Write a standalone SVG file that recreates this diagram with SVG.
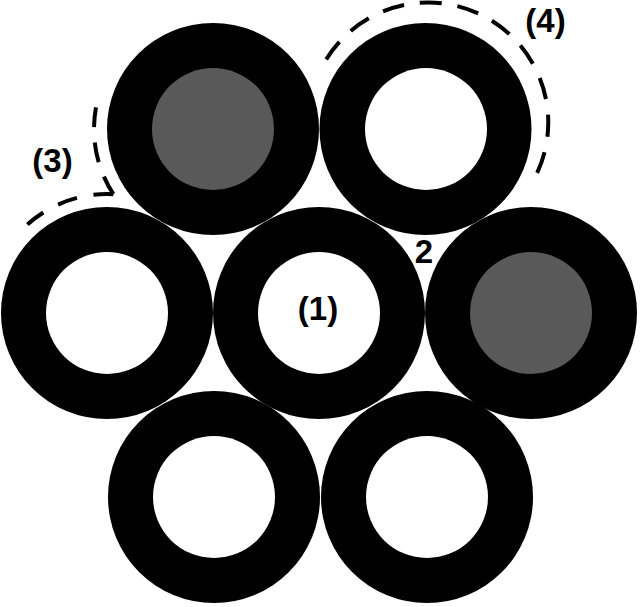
<svg xmlns="http://www.w3.org/2000/svg" width="640" height="607" viewBox="0 0 640 607">
<style>
.outer{fill:#000}
.hole{fill:#fff}
.core{fill:#595959}
.dash{fill:none;stroke:#000;stroke-width:4;stroke-linecap:butt}
.lbl{font-family:"Liberation Sans",Arial,sans-serif;font-weight:bold;font-size:33px;fill:#000;text-anchor:middle}
</style>
<rect width="640" height="607" fill="#fff"/>
<g id="ring-top-left"><circle class="outer" cx="213" cy="129" r="106"/><circle class="core" cx="213" cy="129" r="61"/></g>
<g id="ring-top-right"><circle class="outer" cx="425.5" cy="129" r="106"/><circle class="hole" cx="426" cy="129" r="61"/></g>
<g id="ring-mid-left"><circle class="outer" cx="107" cy="313" r="106"/><circle class="hole" cx="107" cy="313" r="61"/></g>
<g id="ring-center"><circle class="outer" cx="319" cy="313" r="106"/><circle class="hole" cx="319" cy="313" r="61"/></g>
<g id="ring-mid-right"><circle class="outer" cx="531" cy="313" r="106"/><circle class="core" cx="531" cy="313" r="61"/></g>
<g id="ring-bottom-left"><circle class="outer" cx="214" cy="497" r="106"/><circle class="hole" cx="214" cy="497" r="61"/></g>
<g id="ring-bottom-right"><circle class="outer" cx="427" cy="497" r="106"/><circle class="hole" cx="427" cy="497" r="61"/></g>
<g id="connectors">
<path class="dash" d="M326.2,59.4 A120,120 0 0 1 536.8,173.7" stroke-dasharray="22 15.8"/>
<path class="dash" d="M113.4,194.2 A119,119 0 0 1 96.0,107.3" stroke-dasharray="20 15.4"/>
<path class="dash" d="M113.4,194.2 A119,119 0 0 0 27.4,224.6" stroke-dasharray="20 16.8"/>
</g>
<g id="labels">
<text class="lbl" x="318" y="320">(1)</text>
<text class="lbl" x="424" y="263">2</text>
<text class="lbl" x="52.5" y="172">(3)</text>
<text class="lbl" x="545.5" y="32">(4)</text>
</g>
</svg>
